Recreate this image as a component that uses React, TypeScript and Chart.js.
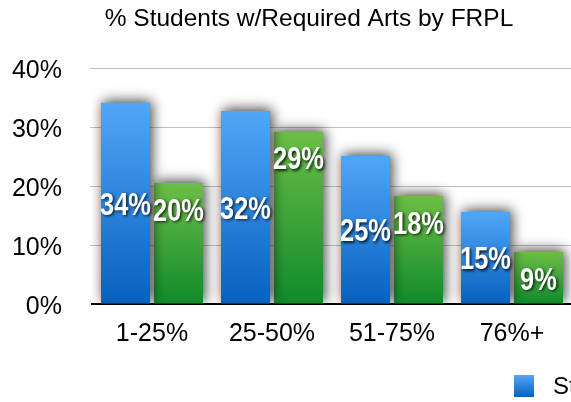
import React, { useEffect, useRef } from "react";
import { Chart, registerables } from "chart.js";

Chart.register(...registerables);

const titleText = "% Students w/Required Arts by FRPL";
const categories = ["1-25%", "25-50%", "51-75%", "76%+"];
const seriesNames = ["Students w/Required Arts", "Students w/o Required Arts"];
const blueValues = [34.1, 32.7, 25.1, 15.6];
const greenValues = [20.5, 29.2, 18.3, 8.8];
const blueLabels = ["34%", "32%", "25%", "15%"];
const greenLabels = ["20%", "29%", "18%", "9%"];
const yTicks = [0, 10, 20, 30, 40];

const BLUE = ["#51a6f7", "#0860bf"];
const GREEN = ["#6cbe46", "#0f8a2b"];
const FONT = "'Liberation Sans', Arial, Helvetica, sans-serif";

function barGradient(ctx: any, colors: string[]) {
  const chart = ctx.chart;
  const area = chart.chartArea;
  if (!area || ctx.type !== "data") return colors[0];
  const v = ctx.raw as number;
  const yScale = chart.scales.y;
  const top = yScale.getPixelForValue(v);
  const bottom = yScale.getPixelForValue(0);
  const g = chart.ctx.createLinearGradient(0, top, 0, bottom);
  g.addColorStop(0, colors[0]);
  g.addColorStop(1, colors[1]);
  return g;
}

const barPlugin = {
  id: "barDeco",
  beforeDatasetsDraw(chart: any) {
    const c = chart.ctx;
    c.save();
    c.shadowColor = "rgba(0,0,0,0.75)";
    c.shadowBlur = 12;
    c.shadowOffsetX = 2;
    c.shadowOffsetY = -2;
  },
  afterDatasetsDraw(chart: any) {
    const c = chart.ctx;
    c.restore();
    const labelSets = [blueLabels, greenLabels];
    chart.data.datasets.forEach((ds: any, di: number) => {
      const meta = chart.getDatasetMeta(di);
      meta.data.forEach((el: any, i: number) => {
        const { x, y, base } = el.getProps(["x", "y", "base"], true);
        const cy = di === 0 ? (y + base) / 2 + 3 : y + 29;
        c.save();
        c.translate(x, cy);
        c.scale(0.82, 1);
        c.font = `bold 31px ${FONT}`;
        c.textAlign = "center";
        c.textBaseline = "middle";
        c.shadowColor = "rgba(0,0,0,0.8)";
        c.shadowBlur = 3;
        c.shadowOffsetX = 1.5;
        c.shadowOffsetY = 1.5;
        c.fillStyle = "#ffffff";
        c.fillText(labelSets[di][i], 0, 0);
        c.restore();
      });
    });
  },
  afterDraw(chart: any) {
    const c = chart.ctx;
    const area = chart.chartArea;
    // title
    c.save();
    c.font = `24.5px ${FONT}`;
    c.fillStyle = "#000000";
    c.textAlign = "center";
    c.textBaseline = "middle";
    c.fillText(titleText, (area.left + area.right) / 2 - 23, 19.7);
    c.restore();
    // legend
    let lx = area.right - 58;
    const ly = 375;
    const cols = [BLUE, GREEN];
    seriesNames.forEach((name, i) => {
      const g = c.createLinearGradient(0, ly, 0, ly + 22);
      g.addColorStop(0, cols[i][0]);
      g.addColorStop(1, cols[i][1]);
      c.save();
      c.fillStyle = g;
      c.fillRect(lx, ly, 20, 22);
      c.font = `24px ${FONT}`;
      c.fillStyle = "#000000";
      c.textBaseline = "middle";
      c.textAlign = "left";
      c.fillText(name, lx + 39, ly + 12);
      const w = c.measureText(name).width;
      c.restore();
      lx += 39 + w + 30;
    });
  },
};

export default function App() {
  const ref = useRef<HTMLCanvasElement>(null);
  useEffect(() => {
    if (!ref.current) return;
    const chart = new Chart(ref.current, {
      type: "bar",
      data: {
        labels: categories,
        datasets: [
          {
            label: seriesNames[0],
            data: blueValues,
            backgroundColor: (ctx: any) => barGradient(ctx, BLUE),
            borderWidth: 0,
            categoryPercentage: 0.883,
            barPercentage: 0.925,
          },
          {
            label: seriesNames[1],
            data: greenValues,
            backgroundColor: (ctx: any) => barGradient(ctx, GREEN),
            borderWidth: 0,
            categoryPercentage: 0.883,
            barPercentage: 0.925,
          },
        ],
      },
      options: {
        responsive: false,
        animation: false,
        layout: { padding: { left: 10, right: 46, top: 68, bottom: 54 } },
        plugins: {
          legend: { display: false },
          tooltip: { enabled: false },
          title: { display: false },
        },
        scales: {
          x: {
            grid: { display: false, drawTicks: false },
            border: { display: true, color: "#000000", width: 2 },
            ticks: {
              color: "#000000",
              font: { family: FONT, size: 25 },
              padding: 15,
            },
            afterFit: (s: any) => {
              s.height = 44;
            },
          },
          y: {
            min: 0,
            max: 40,
            afterBuildTicks: (axis: any) => {
              axis.ticks = yTicks.map((v) => ({ value: v }));
            },
            afterFit: (s: any) => {
              s.width = 82;
            },
            grid: {
              color: (ctx: any) => (ctx.tick && ctx.tick.value === 0 ? "rgba(0,0,0,0)" : "#c0c0c0"),
              lineWidth: 1,
              tickLength: 2,
              drawTicks: true,
            },
            border: { display: false },
            ticks: {
              color: "#000000",
              font: { family: FONT, size: 25 },
              padding: 28,
              labelOffset: 3,
              callback: (v: any) => `${v}%`,
            },
          },
        },
      },
      plugins: [barPlugin],
    });
    return () => chart.destroy();
  }, []);
  return (
    <div
      style={{
        position: "fixed",
        left: 0,
        top: 0,
        width: 571,
        height: 402,
        overflow: "hidden",
        background: "#ffffff",
      }}
    >
      <canvas ref={ref} width={618} height={402} style={{ display: "block" }} />
    </div>
  );
}
